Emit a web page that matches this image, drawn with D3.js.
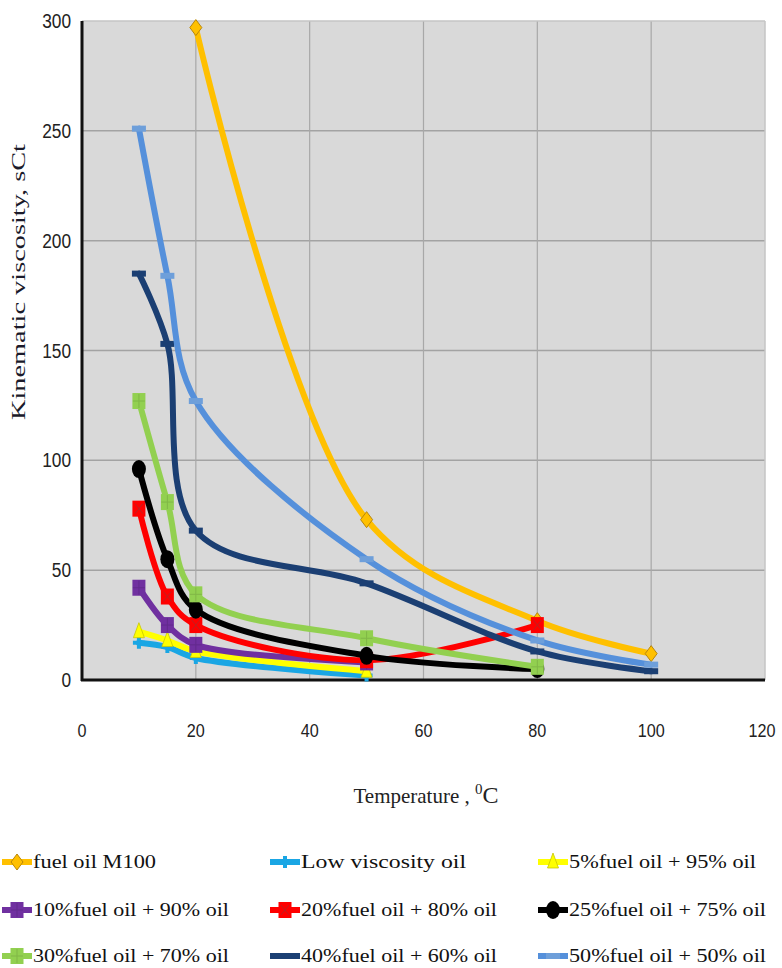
<!DOCTYPE html>
<html><head><meta charset="utf-8">
<script src="https://cdn.jsdelivr.net/npm/d3@7/dist/d3.min.js"></script>
<style>body{margin:0;background:#fff}svg{display:block}</style>
</head><body>
<svg id="c" width="782" height="968"></svg>
<script>
// ---- data ----
const seriesNames = ["fuel oil M100","Low viscosity oil","5%fuel oil + 95% oil","10%fuel oil + 90% oil","20%fuel oil + 80% oil","25%fuel oil + 75% oil","30%fuel oil + 70% oil","40%fuel oil + 60% oil","50%fuel oil + 50% oil"];
const m100T = [20,50,80,100],           m100V = [297,73,27,12];
const lowT  = [10,15,20,50],            lowV  = [17,15,10,2];
const p5T   = [10,15,20,50],            p5V   = [22,18,13,4];
const p10T  = [10,15,20,50],            p10V  = [42,25,16,8];
const p20T  = [10,15,20,50,80],         p20V  = [78,38,25,9,25];
const p25T  = [10,15,20,50,80],         p25V  = [96,55,32,11,5];
const p30T  = [10,15,20,50,80],         p30V  = [127,81,39,19,6];
const p40T  = [10,15,20,50,80,100],     p40V  = [185,153,68,44,13,4];
const p50T  = [10,15,20,50,80,100],     p50V  = [251,184,127,55,18,7];
const xTicks = [0,20,40,60,80,100,120];
const yTicks = [0,50,100,150,200,250,300];
const xTitle = "Temperature , ";
const yTitle = "Kinematic viscosity, sCt";

const temps = [m100T,lowT,p5T,p10T,p20T,p25T,p30T,p40T,p50T];
const vals  = [m100V,lowV,p5V,p10V,p20V,p25V,p30V,p40V,p50V];
const colors = ["#FFC000","#1AA6E4","#FFFF00","#7030A0","#FF0000","#000000","#92D050","#1B3F73","#5590DB"];
const markers = ["diamond","plus","triangle","square","squareX","circle","square","dash","dash"];
const markerFill = ["#FFC000","#1AA6E4","#FFFF00","#7030A0","#FF0000","#000000","#92D050","#1B3F73","#6E9FDA"];

const svg = d3.select("#c");
const x = d3.scaleLinear().domain([0,120]).range([82,765]);
const y = d3.scaleLinear().domain([0,300]).range([680,21]);

// plot area
svg.append("rect").attr("x",x(0)).attr("y",y(300)).attr("width",x(120)-x(0)).attr("height",y(0)-y(300)).attr("fill","#D9D9D9");
// grid
svg.append("g").selectAll("line").data(yTicks.filter(d=>d>0&&d<300)).join("line")
  .attr("x1",x(0)).attr("x2",x(120)).attr("y1",d=>y(d)).attr("y2",d=>y(d)).attr("stroke","#A3A3A3").attr("stroke-width",1.5);
svg.append("g").selectAll("line").data(xTicks.filter(d=>d>0&&d<120)).join("line")
  .attr("y1",y(0)).attr("y2",y(300)).attr("x1",d=>x(d)).attr("x2",d=>x(d)).attr("stroke","#A8A8A8").attr("stroke-width",1.2);
svg.append("line").attr("x1",x(0)).attr("x2",x(120)).attr("y1",y(300)).attr("y2",y(300)).attr("stroke","#C4C4C4").attr("stroke-width",1.5);
svg.append("line").attr("x1",x(120)).attr("x2",x(120)).attr("y1",y(300)).attr("y2",y(0)).attr("stroke","#C4C4C4").attr("stroke-width",1.5);
// axes lines
svg.append("line").attr("x1",x(0)).attr("x2",x(0)).attr("y1",y(300)).attr("y2",y(0)+1).attr("stroke","#111").attr("stroke-width",3);
svg.append("line").attr("x1",x(0)-1).attr("x2",x(120)).attr("y1",y(0)).attr("y2",y(0)).attr("stroke","#111").attr("stroke-width",3);

// tick labels (narrow look)
const tickFont = "'Liberation Sans','DejaVu Sans',sans-serif";
svg.append("g").selectAll("text").data(xTicks).join("text")
  .attr("x",d=>Math.min(x(d), 762)).attr("y",737).attr("text-anchor","middle")
  .attr("font-family",tickFont).attr("font-size",19).attr("fill","#222")
  .attr("textLength",d=>String(d).length*9).attr("lengthAdjust","spacingAndGlyphs").text(d=>d);
svg.append("g").selectAll("text").data(yTicks).join("text")
  .attr("x",71).attr("y",d=>y(d)+7).attr("text-anchor","end")
  .attr("font-family",tickFont).attr("font-size",20).attr("fill","#222")
  .attr("textLength",d=>String(d).length*9.6).attr("lengthAdjust","spacingAndGlyphs").text(d=>d);

// titles
const serif = "'Liberation Serif','DejaVu Serif',serif";
const xt = svg.append("text").attr("x",426).attr("y",803).attr("text-anchor","middle")
  .attr("font-family",serif).attr("font-size",21).attr("fill","#222");
xt.append("tspan").text(xTitle);
xt.append("tspan").attr("font-size",15).attr("dy",-9).text("0");
xt.append("tspan").attr("font-size",24).attr("dy",9).text("C");
svg.append("text").attr("transform","translate(25,282) rotate(-90)").attr("text-anchor","middle")
  .attr("font-family",serif).attr("font-size",19).attr("fill","#1a1a2a")
  .attr("textLength",276).attr("lengthAdjust","spacingAndGlyphs").text(yTitle);

// marker drawer
function drawMarker(g, type, cx, cy, fill) {
  if (type==="diamond") {
    g.append("path").attr("d",`M${cx},${cy-8}L${cx+6},${cy}L${cx},${cy+8}L${cx-6},${cy}Z`)
      .attr("fill",fill).attr("stroke","#B8860B").attr("stroke-width",1);
  } else if (type==="plus") {
    g.append("path").attr("d",`M${cx-6},${cy-2}h4v-4h4v4h4v4h-4v4h-4v-4h-4Z`).attr("fill",fill);
  } else if (type==="triangle") {
    g.append("path").attr("d",`M${cx},${cy-9}L${cx+5.5},${cy+6}L${cx-5.5},${cy+6}Z`)
      .attr("fill",fill).attr("stroke","#C8C800").attr("stroke-width",0.8);
  } else if (type==="square" || type==="squareX") {
    g.append("rect").attr("x",cx-6.5).attr("y",cy-8).attr("width",13).attr("height",16).attr("fill",fill);
    if (type==="squareX") {
      g.append("path").attr("d",`M${cx-4},${cy-5}L${cx+4},${cy+5}M${cx+4},${cy-5}L${cx-4},${cy+5}`).attr("stroke","#B22").attr("stroke-width",1);
    } else {
      g.append("path").attr("d",`M${cx-6},${cy}H${cx+6}M${cx},${cy-7}V${cy+7}`).attr("stroke",d3.color(fill).darker(0.6).formatHex()).attr("stroke-width",1).attr("opacity",0.6);
    }
  } else if (type==="circle") {
    g.append("ellipse").attr("cx",cx).attr("cy",cy).attr("rx",7).attr("ry",9).attr("fill",fill);
  } else if (type==="dash") {
    g.append("rect").attr("x",cx-7).attr("y",cy-3).attr("width",14).attr("height",6).attr("fill",fill);
  }
}

// series
const line = d3.line().curve(d3.curveCatmullRom.alpha(0.5)).x(d=>x(d[0])).y(d=>y(d[1]));
const gs = svg.append("g");
temps.forEach((ts,i)=>{
  const pts = ts.map((t,j)=>[t, vals[i][j]]);
  const g = gs.append("g");
  g.append("path").attr("d",line(pts)).attr("fill","none").attr("stroke",colors[i])
    .attr("stroke-width",6).attr("stroke-linejoin","round").attr("stroke-linecap","round");
  pts.forEach(p=>drawMarker(g, markers[i], x(p[0]), y(p[1]), markerFill[i]));
});

// legend
const legCols = [0, 268, 536];
const legRows = [862, 910, 956];
const legLens = [123, 165, 187, 196, 196, 197, 196, 196, 197];
seriesNames.forEach((name,i)=>{
  const cx = legCols[i%3], cy = legRows[Math.floor(i/3)];
  const g = svg.append("g");
  g.append("line").attr("x1",cx+2).attr("x2",cx+32).attr("y1",cy).attr("y2",cy)
    .attr("stroke",colors[i]).attr("stroke-width",6);
  drawMarker(g, markers[i], cx+17, cy, markerFill[i]);
  g.append("text").attr("x",cx+33).attr("y",cy+6).attr("font-family",serif).attr("font-size",19)
    .attr("fill","#111").attr("textLength",legLens[i]).attr("lengthAdjust","spacingAndGlyphs").text(name);
});
</script>
</body></html>
